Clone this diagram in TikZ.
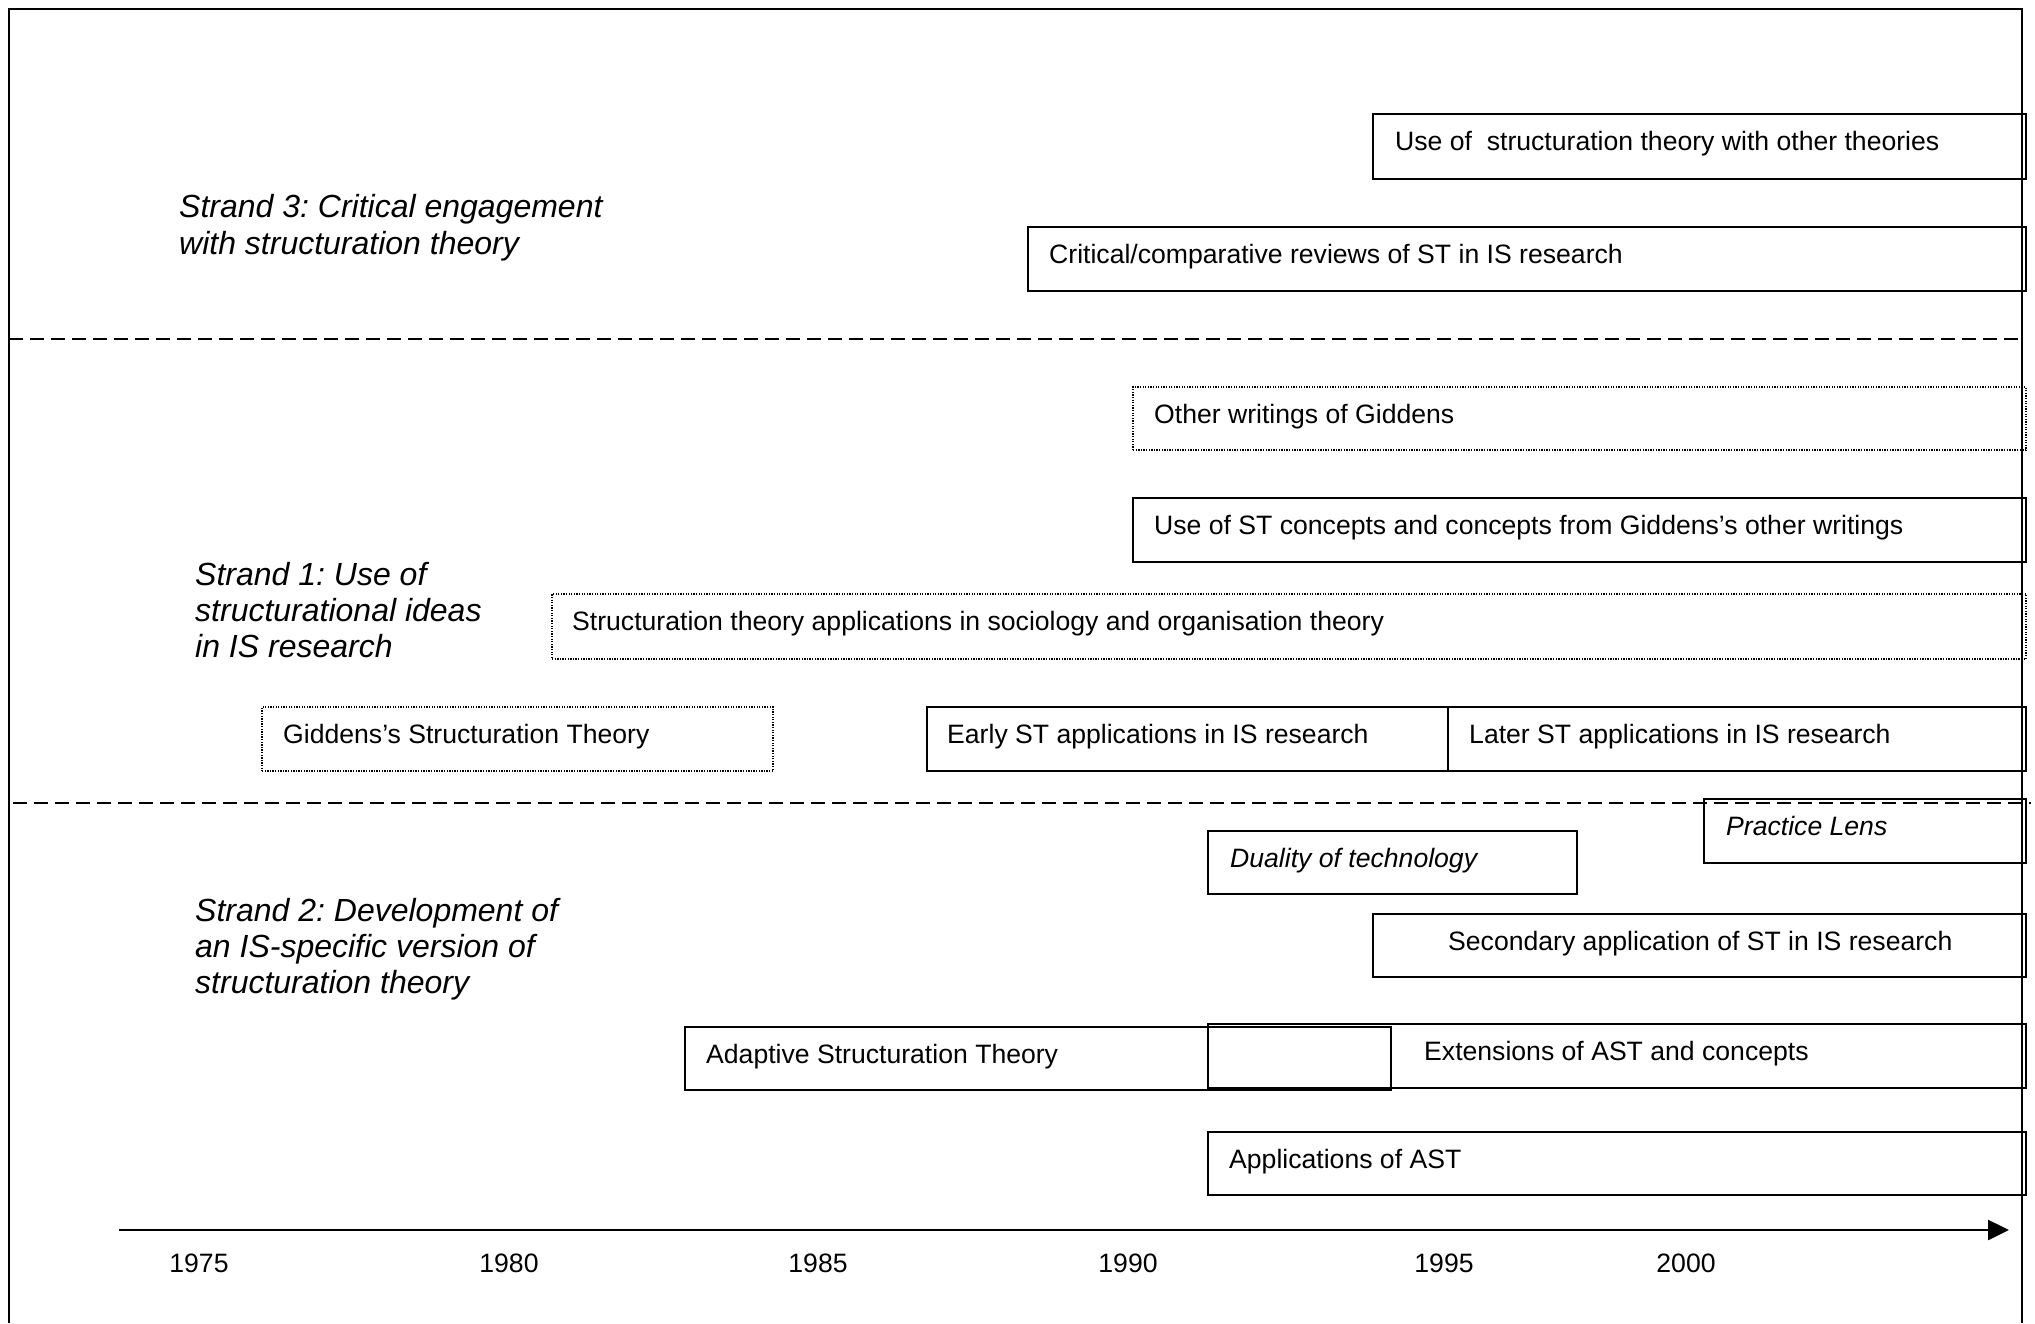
\documentclass[tikz,border=0pt]{standalone}
\usepackage{fontspec}
\setmainfont{Liberation Sans}
\frenchspacing
\usetikzlibrary{arrows.meta}
\tikzset{
  solidbox/.style={draw, line width=2pt, inner sep=0pt, outer sep=0pt},
  dotbox/.style={draw, line width=1.4pt, dash pattern=on 1.3pt off 1.3pt, inner sep=0pt, outer sep=0pt},
  txt/.style={inner sep=0pt, font=\fontsize{26.6}{31}\selectfont},
  strand/.style={inner sep=0pt, anchor=base west, font=\fontsize{32}{36.6}\selectfont\itshape},
  year/.style={inner sep=0pt, anchor=base, font=\fontsize{26.6}{31}\selectfont},
  sep/.style={line width=2pt, dash pattern=on 14pt off 7pt},
  frame/.style={line width=2pt},
  axis/.style={line width=2.5pt, -{Triangle[length=21pt,width=20pt]}}
}
% name, style, x1, y1, x2, y2, text x, text
\newcommand\tbx[8]{%
  \node[#2, anchor=north west, minimum width={(#5)-(#3)}, minimum height={(#6)-(#4)}] (#1) at (#3,#4) {};
  \node[txt, anchor=base west] (#1t) at (#7,#4+36) {#8};
}
\begin{document}
\begin{tikzpicture}[x=1pt,y=-1pt]
\useasboundingbox (0,0) rectangle (2035,1323);
% frame
\coordinate (fbl) at (9,1323);
\coordinate (ftl) at (9,9);
\coordinate (ftr) at (2022,9);
\coordinate (fbr) at (2022,1323);
\draw[frame] (fbl) -- (ftl) -- (ftr) -- (fbr);
% separators
\coordinate (d1a) at (9,339);
\coordinate (d1b) at (2022,339);
\coordinate (d2a) at (13,803);
\coordinate (d2b) at (2031,803);
\draw[sep] (d1a) -- (d1b);
\draw[sep] (d2a) -- (d2b);

% strand labels
\node[strand] (s3a) at (179,217) {Strand 3: Critical engagement};
\node[strand] (s3b) at (179,254) {with structuration theory};
\node[strand] (s1a) at (195,585.5) {Strand 1: Use of};
\node[strand] (s1b) at (195,621.5) {structurational ideas};
\node[strand] (s1c) at (195,657.5) {in IS research};
\node[strand] (s2a) at (195,921.5) {Strand 2: Development of};
\node[strand] (s2b) at (195,957.5) {an IS-specific version of};
\node[strand] (s2c) at (195,993.5) {structuration theory};

% boxes
\tbx{b1}{solidbox}{1373}{114}{2026}{179}{1395}{Use of\ \ structuration theory with other theories}
\tbx{b2}{solidbox}{1028}{227}{2026}{291}{1049}{Critical/comparative reviews of ST in IS research}
\tbx{b3}{dotbox}{1133}{387}{2026}{450}{1154}{Other writings of Giddens}
\tbx{b4}{solidbox}{1133}{498}{2026}{562}{1154}{Use of ST concepts and concepts from Giddens’s other writings}
\tbx{b5}{dotbox}{552}{594}{2026}{659}{572}{Structuration theory applications in sociology and organisation theory}
\tbx{b6}{dotbox}{262}{707}{773}{771}{283}{Giddens’s Structuration Theory}
\tbx{b7}{solidbox}{927}{707}{1448}{771}{947}{Early ST applications in IS research}
\tbx{b8}{solidbox}{1448}{707}{2026}{771}{1469}{Later ST applications in IS research}
\tbx{b9}{solidbox}{1704}{799}{2026}{863}{1726}{\itshape Practice Lens}
\tbx{b10}{solidbox}{1208}{831}{1577}{894}{1230}{\itshape Duality of technology}
\tbx{b11}{solidbox}{1373}{914}{2026}{977}{1448}{Secondary application of ST in IS research}
\tbx{b12}{solidbox}{685}{1027}{1391}{1090}{706}{Adaptive Structuration Theory}
\tbx{b13}{solidbox}{1208}{1024}{2026}{1088}{1424}{Extensions of AST and concepts}
\tbx{b14}{solidbox}{1208}{1132}{2026}{1195}{1229}{Applications of AST}

% time axis
\coordinate (ax0) at (119,1230);
\coordinate (ax1) at (2009,1230);
\draw[axis] (ax0) -- (ax1);
\node[year] (y75) at (199,1272.5) {1975};
\node[year] (y80) at (509,1272.5) {1980};
\node[year] (y85) at (818,1272.5) {1985};
\node[year] (y90) at (1128,1272.5) {1990};
\node[year] (y95) at (1444,1272.5) {1995};
\node[year] (y00) at (1686,1272.5) {2000};
\end{tikzpicture}
\end{document}
